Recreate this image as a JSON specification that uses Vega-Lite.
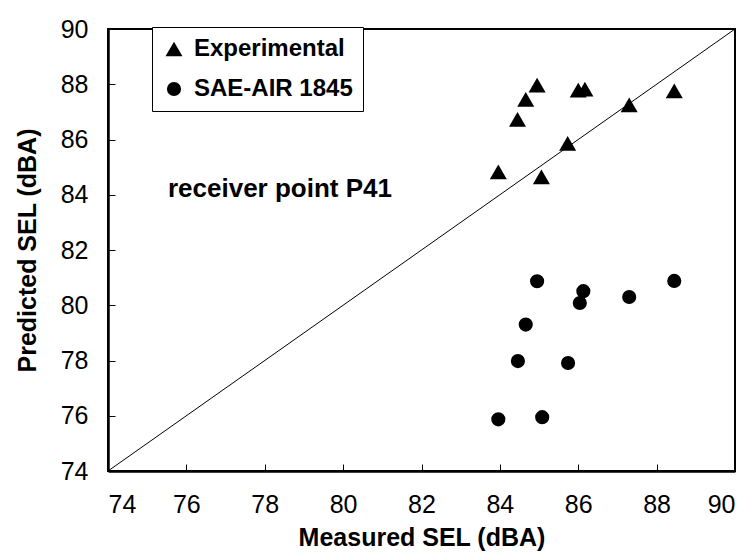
{
  "$schema": "https://vega.github.io/schema/vega-lite/v6.json",
  "width": 627,
  "height": 442,
  "autosize": {"type": "none"},
  "padding": {"left": 108, "top": 29, "right": 18, "bottom": 81},
  "background": "white",
  "config": {
    "font": "Liberation Sans",
    "view": {"stroke": "black", "strokeWidth": 2},
    "axis": {
      "grid": false,
      "domainColor": "black",
      "domainWidth": 2.5,
      "tickColor": "black",
      "tickWidth": 1,
      "tickSize": -7,
      "labelFont": "Liberation Sans",
      "labelFontSize": 25,
      "labelColor": "black",
      "titleFont": "Liberation Sans",
      "titleFontSize": 25,
      "titleFontWeight": "bold",
      "titleColor": "black"
    },
    "legend": {
      "orient": "none", "legendX": 44, "legendY": -2, "title": null,
      "strokeColor": "black", "fillColor": "white", "padding": 10,
      "labelFont": "Liberation Sans", "labelFontSize": 24, "labelFontWeight": "bold", "labelColor": "black",
      "symbolFillColor": "black", "symbolStrokeColor": "black", "symbolOpacity": 1,
      "rowPadding": 16, "labelOffset": 8
    }
  },
  "layer": [
    {
      "data": {"values": [{"m": 74, "p": 74}, {"m": 90, "p": 90}]},
      "mark": {"type": "line", "color": "black", "strokeWidth": 1},
      "encoding": {
        "x": {"field": "m", "type": "quantitative", "scale": {"domain": [74, 90], "nice": false, "zero": false},
              "axis": {"values": [74, 76, 78, 80, 82, 84, 86, 88, 90], "title": "Measured SEL (dBA)", "labelPadding": 28, "titlePadding": 8}},
        "y": {"field": "p", "type": "quantitative", "scale": {"domain": [74, 90], "nice": false, "zero": false},
              "axis": {"values": [74, 76, 78, 80, 82, 84, 86, 88, 90], "title": "Predicted SEL (dBA)", "labelPadding": 27, "titlePadding": 20}}
      }
    },
    {
      "data": {"values": [
        {"measured": 84.95, "predicted": 87.97, "series": "Experimental"},
        {"measured": 84.66, "predicted": 87.45, "series": "Experimental"},
        {"measured": 84.45, "predicted": 86.73, "series": "Experimental"},
        {"measured": 86.0, "predicted": 87.79, "series": "Experimental"},
        {"measured": 86.17, "predicted": 87.82, "series": "Experimental"},
        {"measured": 88.45, "predicted": 87.76, "series": "Experimental"},
        {"measured": 87.3, "predicted": 87.25, "series": "Experimental"},
        {"measured": 85.73, "predicted": 85.86, "series": "Experimental"},
        {"measured": 83.96, "predicted": 84.83, "series": "Experimental"},
        {"measured": 85.06, "predicted": 84.65, "series": "Experimental"},
        {"measured": 84.95, "predicted": 80.87, "series": "SAE-AIR 1845"},
        {"measured": 86.13, "predicted": 80.51, "series": "SAE-AIR 1845"},
        {"measured": 86.04, "predicted": 80.08, "series": "SAE-AIR 1845"},
        {"measured": 87.3, "predicted": 80.3, "series": "SAE-AIR 1845"},
        {"measured": 88.45, "predicted": 80.88, "series": "SAE-AIR 1845"},
        {"measured": 84.66, "predicted": 79.3, "series": "SAE-AIR 1845"},
        {"measured": 84.46, "predicted": 77.98, "series": "SAE-AIR 1845"},
        {"measured": 85.74, "predicted": 77.91, "series": "SAE-AIR 1845"},
        {"measured": 83.96, "predicted": 75.87, "series": "SAE-AIR 1845"},
        {"measured": 85.08, "predicted": 75.95, "series": "SAE-AIR 1845"}
      ]},
      "mark": {"type": "point", "filled": true, "color": "black", "opacity": 1},
      "encoding": {
        "x": {"field": "measured", "type": "quantitative"},
        "y": {"field": "predicted", "type": "quantitative"},
        "size": {
          "field": "series", "type": "nominal",
          "scale": {"domain": ["Experimental", "SAE-AIR 1845"], "range": [290, 200]}
        },
        "shape": {
          "field": "series", "type": "nominal",
          "scale": {"domain": ["Experimental", "SAE-AIR 1845"], "range": ["triangle-up", "circle"]}
        }
      }
    },
    {
      "data": {"values": [{"measured": 75.53, "predicted": 83.91, "label": "receiver point P41"}]},
      "mark": {"type": "text", "align": "left", "baseline": "alphabetic", "font": "Liberation Sans", "fontSize": 26, "fontWeight": "bold", "color": "black"},
      "encoding": {
        "x": {"field": "measured", "type": "quantitative"},
        "y": {"field": "predicted", "type": "quantitative"},
        "text": {"field": "label"}
      }
    }
  ]
}
